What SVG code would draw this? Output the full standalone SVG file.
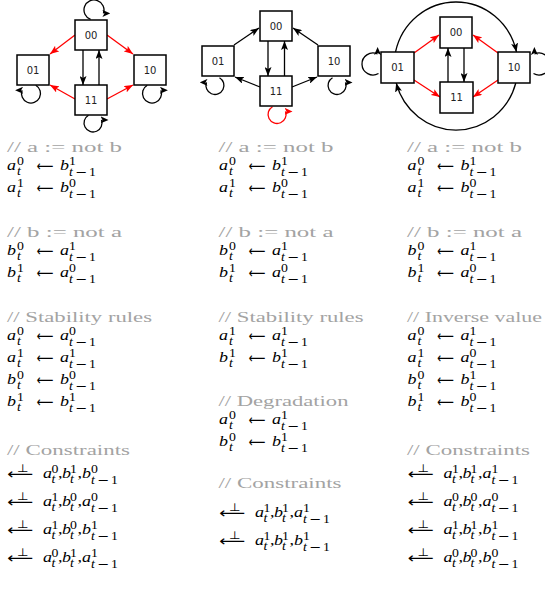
<svg xmlns="http://www.w3.org/2000/svg" xmlns:xlink="http://www.w3.org/1999/xlink" width="545" height="592" viewBox="0 0 545 592">
<style>
.box{fill:#fff;stroke:#000;stroke-width:1.5}
.lbl{font-family:"DejaVu Sans",sans-serif;font-size:10px;fill:#222;text-anchor:middle}
.e{fill:none;stroke:#000;stroke-width:1.3}
.r{stroke:#f00}
.c{font-family:"Liberation Serif",serif;font-size:14.5px;fill:#a3a3a3}
.m{font-family:"Liberation Serif",serif;font-style:italic;font-size:15px;fill:#000}
.n{font-style:normal}
.s{font-family:"Liberation Serif",serif;font-size:11.5px;fill:#000}
.it{font-style:italic}
.mn{font-family:"DejaVu Sans",sans-serif;font-size:12px}
.ar{font-family:"DejaVu Sans",sans-serif;font-size:15px;fill:#000}
.bot{font-family:"DejaVu Sans",sans-serif;font-size:11px;fill:#000}
</style>
<defs>
<marker id="ab" viewBox="0 0 9 7" refX="9" refY="3.5" markerWidth="9" markerHeight="7" markerUnits="userSpaceOnUse" orient="auto"><path d="M0,0 L9,3.5 L0,7 L2,3.5 z" fill="#000"/></marker>
<marker id="arr" viewBox="0 0 9 7" refX="9" refY="3.5" markerWidth="9" markerHeight="7" markerUnits="userSpaceOnUse" orient="auto"><path d="M0,0 L9,3.5 L0,7 L2,3.5 z" fill="#f00"/></marker>
<marker id="lr" viewBox="0 0 8 7" refX="1" refY="3.5" markerWidth="8" markerHeight="7" markerUnits="userSpaceOnUse" orient="0"><path d="M0,0 L8,3.5 L0,7 L2,3.5 z" fill="#000"/></marker>
<marker id="ll" viewBox="0 0 8 7" refX="1" refY="3.5" markerWidth="8" markerHeight="7" markerUnits="userSpaceOnUse" orient="180"><path d="M0,0 L8,3.5 L0,7 L2,3.5 z" fill="#000"/></marker>
<marker id="lu" viewBox="0 0 8 7" refX="1" refY="3.5" markerWidth="8" markerHeight="7" markerUnits="userSpaceOnUse" orient="270"><path d="M0,0 L8,3.5 L0,7 L2,3.5 z" fill="#000"/></marker>
<marker id="lrr" viewBox="0 0 8 7" refX="1" refY="3.5" markerWidth="8" markerHeight="7" markerUnits="userSpaceOnUse" orient="0"><path d="M0,0 L8,3.5 L0,7 L2,3.5 z" fill="#f00"/></marker>
<text id="tt" class="s it">t</text>
<text id="tm1" class="s"><tspan class="it">t</tspan><tspan class="mn" x="5">−</tspan><tspan x="16.7">1</tspan></text>
<text id="la" class="ar" y="0.5" textLength="14" lengthAdjust="spacingAndGlyphs">⟵</text>
<g id="kk"><text class="ar" y="1" textLength="21.7" lengthAdjust="spacingAndGlyphs">⟵</text><text class="bot" x="8.3" y="-6.5">⊥</text></g>
</defs>

<g id="connectors">
<!-- diagram 1 -->
<path class="e r" d="M75,35 L50,54" marker-end="url(#arr)"/>
<path class="e r" d="M107,35 L133,54" marker-end="url(#arr)"/>
<path class="e r" d="M75,99 L50,85" marker-end="url(#arr)"/>
<path class="e r" d="M107,99 L133,85" marker-end="url(#arr)"/>
<path class="e" d="M83,50 L83,85" marker-end="url(#ab)"/>
<path class="e" d="M99,85 L99,50" marker-end="url(#ab)"/>
<path class="e" d="M90.6,19.4 A10 10 0 1 1 103.4,13.4" marker-end="url(#lr)"/>
<path class="e" d="M35.75,85.3 A9.5 9.5 0 1 1 22.1,90.25" marker-end="url(#ll)"/>
<path class="e" d="M147.25,85.3 A9.5 9.5 0 1 0 160.9,90.25" marker-end="url(#lr)"/>
<path class="e" d="M88.5,115.2 A9 9 0 1 0 101.5,119.9" marker-end="url(#lr)"/>
<!-- diagram 2 -->
<path class="e" d="M234,45 L259,28" marker-end="url(#ab)"/>
<path class="e" d="M318,45 L293,28" marker-end="url(#ab)"/>
<path class="e" d="M260,87 L235,77" marker-end="url(#ab)"/>
<path class="e" d="M292,87 L317,77" marker-end="url(#ab)"/>
<path class="e" d="M268,41 L268,76" marker-end="url(#ab)"/>
<path class="e" d="M284.5,76 L284.5,41" marker-end="url(#ab)"/>
<path class="e" d="M219.5,77.7 A9 9 0 1 1 206.5,82.4" marker-end="url(#ll)"/>
<path class="e" d="M332.5,77.7 A9 9 0 1 0 345.5,82.4" marker-end="url(#lr)"/>
<path class="e r" d="M272.5,106.7 A9 9 0 1 0 285.5,111.4" marker-end="url(#lrr)"/>
<!-- diagram 3 -->
<path class="e r" d="M414,53 L439,35" marker-end="url(#arr)"/>
<path class="e r" d="M498,53 L473,35" marker-end="url(#arr)"/>
<path class="e r" d="M414,80 L440,97" marker-end="url(#arr)"/>
<path class="e r" d="M498,80 L473,97" marker-end="url(#arr)"/>
<path class="e" d="M448,82 L448,48" marker-end="url(#ab)"/>
<path class="e" d="M464,48 L464,82" marker-end="url(#ab)"/>
<path class="e" d="M395.5,52 A62 64 0 0 1 516.5,52" marker-end="url(#ab)"/>
<path class="e" d="M515.8,83 A62 64 0 0 1 396.2,83" marker-end="url(#ab)"/>
<path class="e" d="M378.5,73.5 A11 11 0 1 1 377.6,54" marker-end="url(#lu)"/>
<path class="e" d="M533.5,73.5 A11 11 0 1 0 534.4,54" marker-end="url(#lu)"/>
</g>

<g id="d1-n00"><rect class="box" x="75" y="20" width="32" height="30"/><text class="lbl" x="91" y="38.6">00</text></g>
<g id="d1-n01"><rect class="box" x="17" y="55" width="32" height="30"/><text class="lbl" x="33" y="73.6">01</text></g>
<g id="d1-n10"><rect class="box" x="134" y="55" width="32" height="30"/><text class="lbl" x="150" y="73.6">10</text></g>
<g id="d1-n11"><rect class="box" x="75" y="85" width="32" height="30"/><text class="lbl" x="91" y="103.6">11</text></g>

<g id="d2-n00"><rect class="box" x="260" y="11" width="32" height="30"/><text class="lbl" x="276" y="29.6">00</text></g>
<g id="d2-n01"><rect class="box" x="202" y="46" width="32" height="30"/><text class="lbl" x="218" y="64.6">01</text></g>
<g id="d2-n10"><rect class="box" x="318" y="46" width="32" height="30"/><text class="lbl" x="334" y="64.6">10</text></g>
<g id="d2-n11"><rect class="box" x="260" y="76" width="32" height="30"/><text class="lbl" x="276" y="94.6">11</text></g>

<g id="d3-n00"><rect class="box" x="440" y="17" width="32" height="31"/><text class="lbl" x="456" y="36.1">00</text></g>
<g id="d3-n01"><rect class="box" x="381" y="52" width="33" height="31"/><text class="lbl" x="397.5" y="71.1">01</text></g>
<g id="d3-n10"><rect class="box" x="498" y="52" width="32" height="31"/><text class="lbl" x="514" y="71.1">10</text></g>
<g id="d3-n11"><rect class="box" x="440" y="82" width="33" height="31"/><text class="lbl" x="456.5" y="101.1">11</text></g>

<g id="text-left">
<text class="c" x="7" y="152" textLength="115" lengthAdjust="spacingAndGlyphs">// a := not b</text>
<g transform="translate(7,170) scale(1.2,1)"><text class="m">a</text><text class="s" x="8.3" y="-5.5">0</text><use href="#tt" x="8.3" y="5"/><use href="#la" x="24.5"/><text class="m" x="44.2">b</text><text class="s" x="51.7" y="-5.5">1</text><use href="#tm1" x="51.7" y="5.5"/></g>
<g transform="translate(7,192) scale(1.2,1)"><text class="m">a</text><text class="s" x="8.3" y="-5.5">1</text><use href="#tt" x="8.3" y="5"/><use href="#la" x="24.5"/><text class="m" x="44.2">b</text><text class="s" x="51.7" y="-5.5">0</text><use href="#tm1" x="51.7" y="5.5"/></g>
<text class="c" x="7" y="237" textLength="115" lengthAdjust="spacingAndGlyphs">// b := not a</text>
<g transform="translate(7,255) scale(1.2,1)"><text class="m">b</text><text class="s" x="8.3" y="-5.5">0</text><use href="#tt" x="8.3" y="5"/><use href="#la" x="24.5"/><text class="m" x="44.2">a</text><text class="s" x="51.7" y="-5.5">1</text><use href="#tm1" x="51.7" y="5.5"/></g>
<g transform="translate(7,277) scale(1.2,1)"><text class="m">b</text><text class="s" x="8.3" y="-5.5">1</text><use href="#tt" x="8.3" y="5"/><use href="#la" x="24.5"/><text class="m" x="44.2">a</text><text class="s" x="51.7" y="-5.5">0</text><use href="#tm1" x="51.7" y="5.5"/></g>
<text class="c" x="7" y="322" textLength="145" lengthAdjust="spacingAndGlyphs">// Stability rules</text>
<g transform="translate(7,340) scale(1.2,1)"><text class="m">a</text><text class="s" x="8.3" y="-5.5">0</text><use href="#tt" x="8.3" y="5"/><use href="#la" x="24.5"/><text class="m" x="44.2">a</text><text class="s" x="51.7" y="-5.5">0</text><use href="#tm1" x="51.7" y="5.5"/></g>
<g transform="translate(7,362) scale(1.2,1)"><text class="m">a</text><text class="s" x="8.3" y="-5.5">1</text><use href="#tt" x="8.3" y="5"/><use href="#la" x="24.5"/><text class="m" x="44.2">a</text><text class="s" x="51.7" y="-5.5">1</text><use href="#tm1" x="51.7" y="5.5"/></g>
<g transform="translate(7,384) scale(1.2,1)"><text class="m">b</text><text class="s" x="8.3" y="-5.5">0</text><use href="#tt" x="8.3" y="5"/><use href="#la" x="24.5"/><text class="m" x="44.2">b</text><text class="s" x="51.7" y="-5.5">0</text><use href="#tm1" x="51.7" y="5.5"/></g>
<g transform="translate(7,406) scale(1.2,1)"><text class="m">b</text><text class="s" x="8.3" y="-5.5">1</text><use href="#tt" x="8.3" y="5"/><use href="#la" x="24.5"/><text class="m" x="44.2">b</text><text class="s" x="51.7" y="-5.5">1</text><use href="#tm1" x="51.7" y="5.5"/></g>
<text class="c" x="7" y="455" textLength="123" lengthAdjust="spacingAndGlyphs">// Constraints</text>
<g transform="translate(7,478) scale(1.2,1)"><use href="#kk"/><text class="m" x="30">a</text><text class="s" x="37" y="-5.5">0</text><use href="#tt" x="37" y="5"/><text class="m n" x="42.5">,</text><text class="m" x="45.8">b</text><text class="s" x="52.5" y="-5.5">1</text><use href="#tt" x="52.5" y="5"/><text class="m n" x="58.8">,</text><text class="m" x="62.5">b</text><text class="s" x="70" y="-5.5">0</text><use href="#tm1" x="70" y="5.5"/></g>
<g transform="translate(7,506) scale(1.2,1)"><use href="#kk"/><text class="m" x="30">a</text><text class="s" x="37" y="-5.5">1</text><use href="#tt" x="37" y="5"/><text class="m n" x="42.5">,</text><text class="m" x="45.8">b</text><text class="s" x="52.5" y="-5.5">0</text><use href="#tt" x="52.5" y="5"/><text class="m n" x="58.8">,</text><text class="m" x="62.5">a</text><text class="s" x="70" y="-5.5">0</text><use href="#tm1" x="70" y="5.5"/></g>
<g transform="translate(7,534) scale(1.2,1)"><use href="#kk"/><text class="m" x="30">a</text><text class="s" x="37" y="-5.5">1</text><use href="#tt" x="37" y="5"/><text class="m n" x="42.5">,</text><text class="m" x="45.8">b</text><text class="s" x="52.5" y="-5.5">0</text><use href="#tt" x="52.5" y="5"/><text class="m n" x="58.8">,</text><text class="m" x="62.5">b</text><text class="s" x="70" y="-5.5">1</text><use href="#tm1" x="70" y="5.5"/></g>
<g transform="translate(7,562) scale(1.2,1)"><use href="#kk"/><text class="m" x="30">a</text><text class="s" x="37" y="-5.5">0</text><use href="#tt" x="37" y="5"/><text class="m n" x="42.5">,</text><text class="m" x="45.8">b</text><text class="s" x="52.5" y="-5.5">1</text><use href="#tt" x="52.5" y="5"/><text class="m n" x="58.8">,</text><text class="m" x="62.5">a</text><text class="s" x="70" y="-5.5">1</text><use href="#tm1" x="70" y="5.5"/></g>
</g>

<g id="text-middle">
<text class="c" x="218.5" y="152" textLength="115" lengthAdjust="spacingAndGlyphs">// a := not b</text>
<g transform="translate(219,170) scale(1.2,1)"><text class="m">a</text><text class="s" x="8.3" y="-5.5">0</text><use href="#tt" x="8.3" y="5"/><use href="#la" x="24.5"/><text class="m" x="44.2">b</text><text class="s" x="51.7" y="-5.5">1</text><use href="#tm1" x="51.7" y="5.5"/></g>
<g transform="translate(219,192) scale(1.2,1)"><text class="m">a</text><text class="s" x="8.3" y="-5.5">1</text><use href="#tt" x="8.3" y="5"/><use href="#la" x="24.5"/><text class="m" x="44.2">b</text><text class="s" x="51.7" y="-5.5">0</text><use href="#tm1" x="51.7" y="5.5"/></g>
<text class="c" x="218.5" y="237" textLength="115" lengthAdjust="spacingAndGlyphs">// b := not a</text>
<g transform="translate(219,255) scale(1.2,1)"><text class="m">b</text><text class="s" x="8.3" y="-5.5">0</text><use href="#tt" x="8.3" y="5"/><use href="#la" x="24.5"/><text class="m" x="44.2">a</text><text class="s" x="51.7" y="-5.5">1</text><use href="#tm1" x="51.7" y="5.5"/></g>
<g transform="translate(219,277) scale(1.2,1)"><text class="m">b</text><text class="s" x="8.3" y="-5.5">1</text><use href="#tt" x="8.3" y="5"/><use href="#la" x="24.5"/><text class="m" x="44.2">a</text><text class="s" x="51.7" y="-5.5">0</text><use href="#tm1" x="51.7" y="5.5"/></g>
<text class="c" x="218.5" y="322" textLength="145" lengthAdjust="spacingAndGlyphs">// Stability rules</text>
<g transform="translate(219,340) scale(1.2,1)"><text class="m">a</text><text class="s" x="8.3" y="-5.5">1</text><use href="#tt" x="8.3" y="5"/><use href="#la" x="24.5"/><text class="m" x="44.2">a</text><text class="s" x="51.7" y="-5.5">1</text><use href="#tm1" x="51.7" y="5.5"/></g>
<g transform="translate(219,362) scale(1.2,1)"><text class="m">b</text><text class="s" x="8.3" y="-5.5">1</text><use href="#tt" x="8.3" y="5"/><use href="#la" x="24.5"/><text class="m" x="44.2">b</text><text class="s" x="51.7" y="-5.5">1</text><use href="#tm1" x="51.7" y="5.5"/></g>
<text class="c" x="218.5" y="406" textLength="130" lengthAdjust="spacingAndGlyphs">// Degradation</text>
<g transform="translate(219,424) scale(1.2,1)"><text class="m">a</text><text class="s" x="8.3" y="-5.5">0</text><use href="#tt" x="8.3" y="5"/><use href="#la" x="24.5"/><text class="m" x="44.2">a</text><text class="s" x="51.7" y="-5.5">1</text><use href="#tm1" x="51.7" y="5.5"/></g>
<g transform="translate(219,446) scale(1.2,1)"><text class="m">b</text><text class="s" x="8.3" y="-5.5">0</text><use href="#tt" x="8.3" y="5"/><use href="#la" x="24.5"/><text class="m" x="44.2">b</text><text class="s" x="51.7" y="-5.5">1</text><use href="#tm1" x="51.7" y="5.5"/></g>
<text class="c" x="218.5" y="488" textLength="123" lengthAdjust="spacingAndGlyphs">// Constraints</text>
<g transform="translate(219,517) scale(1.2,1)"><use href="#kk"/><text class="m" x="30">a</text><text class="s" x="37" y="-5.5">1</text><use href="#tt" x="37" y="5"/><text class="m n" x="42.5">,</text><text class="m" x="45.8">b</text><text class="s" x="52.5" y="-5.5">1</text><use href="#tt" x="52.5" y="5"/><text class="m n" x="58.8">,</text><text class="m" x="62.5">a</text><text class="s" x="70" y="-5.5">1</text><use href="#tm1" x="70" y="5.5"/></g>
<g transform="translate(219,545) scale(1.2,1)"><use href="#kk"/><text class="m" x="30">a</text><text class="s" x="37" y="-5.5">1</text><use href="#tt" x="37" y="5"/><text class="m n" x="42.5">,</text><text class="m" x="45.8">b</text><text class="s" x="52.5" y="-5.5">1</text><use href="#tt" x="52.5" y="5"/><text class="m n" x="58.8">,</text><text class="m" x="62.5">b</text><text class="s" x="70" y="-5.5">1</text><use href="#tm1" x="70" y="5.5"/></g>
</g>

<g id="text-right">
<text class="c" x="407" y="152" textLength="115" lengthAdjust="spacingAndGlyphs">// a := not b</text>
<g transform="translate(407.5,170) scale(1.2,1)"><text class="m">a</text><text class="s" x="8.3" y="-5.5">0</text><use href="#tt" x="8.3" y="5"/><use href="#la" x="24.5"/><text class="m" x="44.2">b</text><text class="s" x="51.7" y="-5.5">1</text><use href="#tm1" x="51.7" y="5.5"/></g>
<g transform="translate(407.5,192) scale(1.2,1)"><text class="m">a</text><text class="s" x="8.3" y="-5.5">1</text><use href="#tt" x="8.3" y="5"/><use href="#la" x="24.5"/><text class="m" x="44.2">b</text><text class="s" x="51.7" y="-5.5">0</text><use href="#tm1" x="51.7" y="5.5"/></g>
<text class="c" x="407" y="237" textLength="115" lengthAdjust="spacingAndGlyphs">// b := not a</text>
<g transform="translate(407.5,255) scale(1.2,1)"><text class="m">b</text><text class="s" x="8.3" y="-5.5">0</text><use href="#tt" x="8.3" y="5"/><use href="#la" x="24.5"/><text class="m" x="44.2">a</text><text class="s" x="51.7" y="-5.5">1</text><use href="#tm1" x="51.7" y="5.5"/></g>
<g transform="translate(407.5,277) scale(1.2,1)"><text class="m">b</text><text class="s" x="8.3" y="-5.5">1</text><use href="#tt" x="8.3" y="5"/><use href="#la" x="24.5"/><text class="m" x="44.2">a</text><text class="s" x="51.7" y="-5.5">0</text><use href="#tm1" x="51.7" y="5.5"/></g>
<text class="c" x="407" y="322" textLength="135" lengthAdjust="spacingAndGlyphs">// Inverse value</text>
<g transform="translate(407.5,340) scale(1.2,1)"><text class="m">a</text><text class="s" x="8.3" y="-5.5">0</text><use href="#tt" x="8.3" y="5"/><use href="#la" x="24.5"/><text class="m" x="44.2">a</text><text class="s" x="51.7" y="-5.5">1</text><use href="#tm1" x="51.7" y="5.5"/></g>
<g transform="translate(407.5,362) scale(1.2,1)"><text class="m">a</text><text class="s" x="8.3" y="-5.5">1</text><use href="#tt" x="8.3" y="5"/><use href="#la" x="24.5"/><text class="m" x="44.2">a</text><text class="s" x="51.7" y="-5.5">0</text><use href="#tm1" x="51.7" y="5.5"/></g>
<g transform="translate(407.5,384) scale(1.2,1)"><text class="m">b</text><text class="s" x="8.3" y="-5.5">0</text><use href="#tt" x="8.3" y="5"/><use href="#la" x="24.5"/><text class="m" x="44.2">b</text><text class="s" x="51.7" y="-5.5">1</text><use href="#tm1" x="51.7" y="5.5"/></g>
<g transform="translate(407.5,406) scale(1.2,1)"><text class="m">b</text><text class="s" x="8.3" y="-5.5">1</text><use href="#tt" x="8.3" y="5"/><use href="#la" x="24.5"/><text class="m" x="44.2">b</text><text class="s" x="51.7" y="-5.5">0</text><use href="#tm1" x="51.7" y="5.5"/></g>
<text class="c" x="407" y="455" textLength="123" lengthAdjust="spacingAndGlyphs">// Constraints</text>
<g transform="translate(407.5,478) scale(1.2,1)"><use href="#kk"/><text class="m" x="30">a</text><text class="s" x="37" y="-5.5">1</text><use href="#tt" x="37" y="5"/><text class="m n" x="42.5">,</text><text class="m" x="45.8">b</text><text class="s" x="52.5" y="-5.5">1</text><use href="#tt" x="52.5" y="5"/><text class="m n" x="58.8">,</text><text class="m" x="62.5">a</text><text class="s" x="70" y="-5.5">1</text><use href="#tm1" x="70" y="5.5"/></g>
<g transform="translate(407.5,506) scale(1.2,1)"><use href="#kk"/><text class="m" x="30">a</text><text class="s" x="37" y="-5.5">0</text><use href="#tt" x="37" y="5"/><text class="m n" x="42.5">,</text><text class="m" x="45.8">b</text><text class="s" x="52.5" y="-5.5">0</text><use href="#tt" x="52.5" y="5"/><text class="m n" x="58.8">,</text><text class="m" x="62.5">a</text><text class="s" x="70" y="-5.5">0</text><use href="#tm1" x="70" y="5.5"/></g>
<g transform="translate(407.5,534) scale(1.2,1)"><use href="#kk"/><text class="m" x="30">a</text><text class="s" x="37" y="-5.5">1</text><use href="#tt" x="37" y="5"/><text class="m n" x="42.5">,</text><text class="m" x="45.8">b</text><text class="s" x="52.5" y="-5.5">1</text><use href="#tt" x="52.5" y="5"/><text class="m n" x="58.8">,</text><text class="m" x="62.5">b</text><text class="s" x="70" y="-5.5">1</text><use href="#tm1" x="70" y="5.5"/></g>
<g transform="translate(407.5,562) scale(1.2,1)"><use href="#kk"/><text class="m" x="30">a</text><text class="s" x="37" y="-5.5">0</text><use href="#tt" x="37" y="5"/><text class="m n" x="42.5">,</text><text class="m" x="45.8">b</text><text class="s" x="52.5" y="-5.5">0</text><use href="#tt" x="52.5" y="5"/><text class="m n" x="58.8">,</text><text class="m" x="62.5">b</text><text class="s" x="70" y="-5.5">0</text><use href="#tm1" x="70" y="5.5"/></g>
</g>
</svg>
